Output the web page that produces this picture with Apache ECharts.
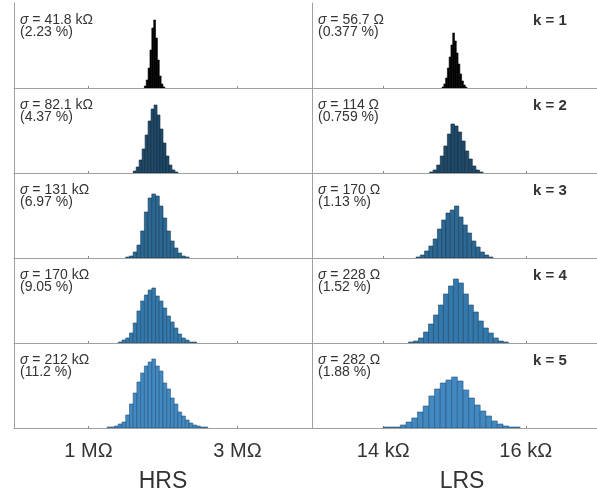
<!DOCTYPE html>
<html><head><meta charset="utf-8">
<script src="https://cdn.jsdelivr.net/npm/echarts@6/dist/echarts.min.js"></script>
<style>html,body{margin:0;padding:0;background:#fff}#c{width:597px;height:497px}</style>
</head><body><div id="c"></div>
<script>
// ---- HRS histograms (bin centres in MΩ, bar heights in relative counts) ----
const hrsCenters1 = [1.7625,1.7875,1.8125,1.8375,1.8625,1.8875,1.9125,1.9375,1.9625,1.9875,2.0125];
const hrsCounts1  = [2,8,20,38,60,68,50,28,12,4,1];
const hrsCenters2 = [1.62,1.66,1.70,1.74,1.78,1.82,1.86,1.90,1.94,1.98,2.02,2.06,2.10,2.14,2.18];
const hrsCounts2  = [2,6,13,24,38,52,64,68,58,44,30,17,8,3,1];
const hrsCenters3 = [1.525,1.575,1.625,1.675,1.725,1.775,1.825,1.875,1.925,1.975,2.025,2.075,2.125,2.175,2.225,2.275,2.325];
const hrsCounts3  = [1,2,6,13,27,46,60,64,62,52,40,27,17,10,5,2,1];
const hrsCenters4 = [1.425,1.475,1.525,1.575,1.625,1.675,1.725,1.775,1.825,1.875,1.925,1.975,2.025,2.075,2.125,2.175,2.225,2.275,2.325,2.375,2.425];
const hrsCounts4  = [1,3,5,10,20,32,42,48,53,55,47,42,35,27,21,15,9,5,3,1,1];
const hrsCenters5 = [1.275,1.325,1.375,1.425,1.475,1.525,1.575,1.625,1.675,1.725,1.775,1.825,1.875,1.925,1.975,2.025,2.075,2.125,2.175,2.225,2.275,2.325,2.375,2.425,2.475,2.525,2.575];
const hrsCounts5  = [1,1,2,4,6,13,24,35,46,55,62,66,69,62,57,45,39,30,24,16,12,8,5,3,2,1,1];
const hrsBinWidths = [0.025,0.04,0.05,0.05,0.05];

// ---- LRS histograms (bin centres in kΩ) ----
const lrsCenters1 = [14.8375,14.8625,14.8875,14.9125,14.9375,14.9625,14.9875,15.0125,15.0375,15.0625,15.0875,15.1125,15.1375,15.1625];
const lrsCounts1  = [1,4,10,20,31,43,55,47,35,24,14,7,3,1];
const lrsCenters2 = [14.675,14.725,14.775,14.825,14.875,14.925,14.975,15.025,15.075,15.125,15.175,15.225,15.275,15.325,15.375];
const lrsCounts2  = [1,3,8,17,27,39,49,47,41,32,22,14,7,3,1];
const lrsCenters3 = [14.49,14.55,14.61,14.67,14.73,14.79,14.85,14.91,14.97,15.03,15.09,15.15,15.21,15.27,15.33,15.39,15.45,15.51];
const lrsCounts3  = [1,3,7,12,19,29,38,45,48,52,41,33,25,17,11,6,3,1];
const lrsCenters4 = [14.39,14.46,14.53,14.60,14.67,14.74,14.81,14.88,14.95,15.02,15.09,15.16,15.23,15.30,15.37,15.44,15.51,15.58,15.65,15.72];
const lrsCounts4  = [1,2,5,11,19,28,38,49,57,64,60,49,38,31,22,15,10,5,2,1];
const lrsCenters5 = [14.04,14.12,14.20,14.28,14.36,14.44,14.52,14.60,14.68,14.76,14.84,14.92,15.00,15.08,15.16,15.24,15.32,15.40,15.48,15.56,15.64,15.72,15.80,15.88];
const lrsCounts5  = [1,1,1,3,6,10,16,22,32,39,45,48,51,47,38,30,23,17,12,7,4,2,1,1];
const lrsBinWidths = [0.025,0.05,0.06,0.07,0.08];

// ---- annotations ----
const hrsSigma = ['41.8 kΩ','82.1 kΩ','131 kΩ','170 kΩ','212 kΩ'];
const hrsPct   = ['(2.23 %)','(4.37 %)','(6.97 %)','(9.05 %)','(11.2 %)'];
const lrsSigma = ['56.7 Ω','114 Ω','170 Ω','228 Ω','282 Ω'];
const lrsPct   = ['(0.377 %)','(0.759 %)','(1.13 %)','(1.52 %)','(1.88 %)'];
const kLabels  = ['k = 1','k = 2','k = 3','k = 4','k = 5'];
const hrsTicks = [1,3];
const hrsTickLabels = ['1 MΩ','3 MΩ'];
const lrsTicks = [14,16];
const lrsTickLabels = ['14 kΩ','16 kΩ'];

const hrsCenters = [hrsCenters1,hrsCenters2,hrsCenters3,hrsCenters4,hrsCenters5];
const hrsCounts = [hrsCounts1,hrsCounts2,hrsCounts3,hrsCounts4,hrsCounts5];
const lrsCenters = [lrsCenters1,lrsCenters2,lrsCenters3,lrsCenters4,lrsCenters5];
const lrsCounts = [lrsCounts1,lrsCounts2,lrsCounts3,lrsCounts4,lrsCounts5];

const fills = ['#000000','#1f4a69','#2b6893','#3479ad','#4289c2'];
const strokes = ['#000000','#13293a','#1a3b55','#1f4866','#24527a'];

const FONT = 'Liberation Sans, Arial, sans-serif';
const rowTop = 3, rowH = 85;
const grids = [], xAxes = [], yAxes = [], series = [], graphics = [];

function addPanel(col, row, centers, counts, bw) {
  const idx = grids.length;
  const isLeft = col === 0;
  grids.push({ left: isLeft ? 14 : 312, width: isLeft ? 298 : 300, top: rowTop + row*rowH, height: rowH, containLabel: false });
  const last = row === 4;
  xAxes.push({
    type: 'value', gridIndex: idx,
    min: isLeft ? 0 : 13, max: isLeft ? 4 : 17,
    axisLine: { show: true, lineStyle: { color: '#a0a0a0', width: 1 } },
    axisTick: { show: true, inside: true, length: 2, customValues: isLeft ? hrsTicks : lrsTicks, lineStyle: { color: '#888' } },
    axisLabel: last ? {
      show: true, customValues: isLeft ? hrsTicks : lrsTicks, margin: 13,
      fontSize: 20, color: '#333', fontFamily: FONT,
      formatter: v => { const t = isLeft ? hrsTicks : lrsTicks; const l = isLeft ? hrsTickLabels : lrsTickLabels; const i = t.indexOf(v); return i >= 0 ? l[i] : ''; }
    } : { show: false },
    splitLine: { show: false }
  });
  yAxes.push({
    type: 'value', gridIndex: idx, min: 0, max: 85,
    axisLine: { show: true, lineStyle: { color: '#a0a0a0', width: 1 } },
    axisTick: { show: false }, axisLabel: { show: false }, splitLine: { show: false }
  });
  const data = centers.map((c, i) => [c, counts[i]]);
  series.push({
    type: 'custom', xAxisIndex: idx, yAxisIndex: idx, data,
    clip: true,
    renderItem: (params, api) => {
      const c = api.value(0), h = api.value(1);
      const p0 = api.coord([c - bw/2, h]);
      const p1 = api.coord([c + bw/2, 0]);
      return { type: 'rect', shape: { x: p0[0], y: p0[1], width: p1[0]-p0[0], height: p1[1]-p0[1] },
        style: { fill: fills[row], stroke: strokes[row], lineWidth: 0.6 } };
    }
  });
}

for (let r = 0; r < 5; r++) {
  addPanel(0, r, hrsCenters[r], hrsCounts[r], hrsBinWidths[r]);
  addPanel(1, r, lrsCenters[r], lrsCounts[r], lrsBinWidths[r]);
  const ty = rowTop + r*rowH + 10;
  graphics.push({ type: 'text', left: 20, top: ty, style: {
    text: '{i|σ} = ' + hrsSigma[r] + '\n' + hrsPct[r], fontSize: 14, lineHeight: 12.5, fill: '#333', fontFamily: FONT,
    rich: { i: { fontStyle: 'italic', fontSize: 14, fill: '#333', fontFamily: FONT } } } });
  graphics.push({ type: 'text', left: 318, top: ty, style: {
    text: '{i|σ} = ' + lrsSigma[r] + '\n' + lrsPct[r], fontSize: 14, lineHeight: 12.5, fill: '#333', fontFamily: FONT,
    rich: { i: { fontStyle: 'italic', fontSize: 14, fill: '#333', fontFamily: FONT } } } });
  graphics.push({ type: 'text', left: 533, top: ty, style: {
    text: kLabels[r], fontSize: 15, fontWeight: 'bold', fill: '#333', fontFamily: FONT } });
}
graphics.push({ type: 'text', x: 163, y: 482, style: { text: 'HRS', fontSize: 23, fill: '#333', fontFamily: FONT, align: 'center', verticalAlign: 'middle' } });
graphics.push({ type: 'text', x: 462, y: 482, style: { text: 'LRS', fontSize: 23, fill: '#333', fontFamily: FONT, align: 'center', verticalAlign: 'middle' } });

const chart = echarts.init(document.getElementById('c'), null, { renderer: 'canvas' });
chart.setOption({ animation: false, backgroundColor: '#fff', grid: grids, xAxis: xAxes, yAxis: yAxes, series, graphic: graphics });
</script></body></html>
